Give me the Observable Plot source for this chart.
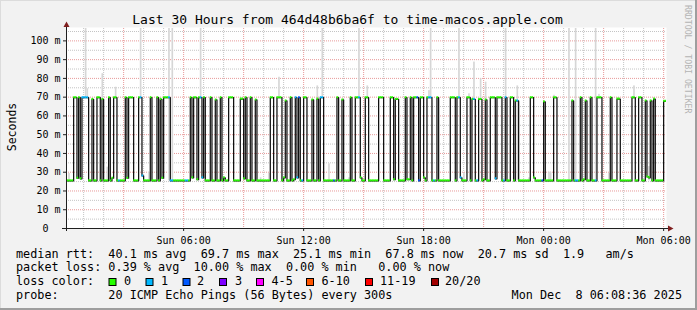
<!DOCTYPE html>
<html><head><meta charset="utf-8">
<script src="https://cdn.jsdelivr.net/npm/d3@7"></script>
<script src="https://cdn.jsdelivr.net/npm/@observablehq/plot@0.6"></script>
<style>
html,body{margin:0;padding:0;background:#f2f2f2;}
#chart{width:697px;height:310px;}
svg text{font-family:"DejaVu Sans Mono",monospace;white-space:pre;}
</style></head><body><div id="chart"></div>
<script>
// ---------- data ----------
const title = "Last 30 Hours from 464d48b6ba6f to time-macos.apple.com";
const yAxisTitle = "Seconds";
const watermark = "RRDTOOL / TOBI OETIKER";
const windowStart = "2025-12-07T00:08:36Z";
const windowEnd = "2025-12-08T06:08:36Z";
const firstSampleTime = "2025-12-07T00:10:00Z";
const stepMinutes = 5;
const sampleCount = 360;
const yMax = 106.6;                 // ms at top of canvas
const lowLevel = 25.4;              // ms, median when route is "fast"
const yTicks = [0, 10, 20, 30, 40, 50, 60, 70, 80, 90, 100];
const yMinorTicks = [5, 15, 25, 35, 45, 55, 65, 75, 85, 95, 105];
const xTickTimes = ["2025-12-07T06:00:00Z", "2025-12-07T12:00:00Z", "2025-12-07T18:00:00Z", "2025-12-08T00:00:00Z", "2025-12-08T06:00:00Z"];
const xTickLabels = ["Sun 06:00", "Sun 12:00", "Sun 18:00", "Mon 00:00", "Mon 06:00"];

// runs of samples where the median sits on the ~70 ms level [start, end)
const highRunStart = [4,7,9,15,18,21,25,28,35,37,43,50,54,56,58,74,76,79,82,86,89,92,97,104,107,110,113,122,126,131,134,137,139,142,147,150,152,162,165,170,173,179,187,194,197,203,206,208,212,216,222,230,234,240,243,247,251,254,258,263,266,269,278,286,292,303,308,311,314,318,326,330,339,343,347,350,352,358];
const highRunEnd   = [6,8,13,16,20,22,26,30,36,40,45,51,55,57,62,75,78,81,83,87,90,93,100,106,108,111,114,124,129,132,135,138,140,144,148,151,154,163,166,171,176,181,190,196,199,204,207,211,214,219,223,233,236,242,245,249,252,257,261,264,268,271,280,287,294,304,309,312,315,321,327,332,341,345,348,351,353,360];
const highRunLevel = [69.7,69.7,69.7,68.8,69.7,68.8,69.7,69.7,69.7,69.7,69.7,69.7,69.7,68.8,69.7,69.7,69.7,69.7,69.7,69.7,68.5,69.7,69.7,69.0,69.7,69.7,68.5,69.7,69.7,68.0,69.7,69.7,69.7,69.7,68.5,69.0,69.7,69.7,68.5,69.7,69.7,69.7,69.7,69.7,68.8,69.7,69.7,69.7,69.7,69.7,69.7,69.7,69.7,69.7,68.8,68.8,68.5,69.7,69.7,69.7,69.7,68.0,69.7,67.5,69.7,68.0,69.7,68.0,69.7,69.7,69.7,69.0,69.7,69.7,68.0,68.0,69.0,67.8];
// low samples a little above the usual level
const lowBumpIdx   = [6,8,27,36,45,57,75,78,81,94,106,130,136,138,176,196,204,205,214,236,250,257,280,310,348,349];
const lowBumpLevel = [26.8,26.5,26.8,26.8,28.0,26.8,27.0,26.0,27.0,27.0,26.5,27.0,26.0,27.0,27.0,26.0,26.0,26.0,27.0,27.0,26.0,26.5,27.0,26.0,27.5,27.0];
// samples with packet loss (1/20 and 2/20)
const loss1Idx = [9,10,11,12,31,44,45,61,62,63,71,72,80,81,137,138,141,152,153,175,217,218,220,235,236,244,246,257,262,263,270,305,306,317];
const loss2Idx = [139,160,210,211,285];
// smoke (ping spread) spikes
const smokeIdx = [1,11,12,21,24,29,44,49,61,63,80,116,121,127,150,153,157,169,175,180,217,218,235,238,241,244,248,251,263,270,277,289,290,292,301,305,317,319,325,340,349];
const smokeLo  = [25.4,69.7,69.7,68.8,25.4,69.7,69.7,25.4,25.4,25.4,69.7,25.4,25.4,69.7,69.0,69.7,25.4,25.4,69.7,69.7,69.7,69.7,69.7,25.4,69.7,68.8,68.8,68.5,69.7,25.4,25.4,25.4,25.4,69.7,25.4,25.4,25.4,69.7,25.4,69.7,25.4];
const smokeHi  = [29.3,110,74.5,82.5,32.7,75.3,110,30,110,110,110,27,29.3,80.6,76,110,34.5,27,110,76,73.5,110,110,29.3,71.8,88.7,79.8,78,110,76,27,30,30,71,110,110,110,71.5,29.3,76,33];

const lossColors = ["#26ff00","#00b8ff","#0059ff","#7e00ff","#ff00ff","#ff5500","#ff0000","#a10000"];
const lossLabels = ["0","1","2","3","4-5","6-10","11-19","20/20"];
const legendRtt   = "median rtt:  40.1 ms avg  69.7 ms max  25.1 ms min  67.8 ms now  20.7 ms sd  1.9   am/s";
const legendLoss  = "packet loss: 0.39 % avg  10.00 % max  0.00 % min   0.00 % now";
const legendColor = "loss color:";
const legendProbe = "probe:       20 ICMP Echo Pings (56 Bytes) every 300s";
const legendDate  = "Mon Dec  8 06:08:36 2025";

// ---------- build tables ----------
const tStart = new Date(windowStart), tEnd = new Date(windowEnd);
const t0 = new Date(firstSampleTime);
const step = stepMinutes * 60000;
const level = new Array(sampleCount).fill(lowLevel);
highRunStart.forEach((s, k) => { for (let i = s; i < highRunEnd[k]; i++) level[i] = highRunLevel[k]; });
lowBumpIdx.forEach((i, k) => { level[i] = lowBumpLevel[k]; });
const loss = new Array(sampleCount).fill(0);
loss1Idx.forEach(i => loss[i] = 1);
loss2Idx.forEach(i => loss[i] = 2);
const samples = [];
for (let i = -1; i < sampleCount; i++) {
  samples.push({t: new Date(+t0 + i * step), t2: new Date(+t0 + (i + 1) * step), v: i < 0 ? lowLevel : level[i], loss: i < 0 ? 0 : loss[i]});
}
const linePts = samples.map(d => ({t: d.t, v: d.v}));
linePts.push({t: samples[samples.length - 1].t2, v: samples[samples.length - 1].v});
const smoke = smokeIdx.map((i, k) => ({t: new Date(+t0 + i * step), t2: new Date(+t0 + (i + 1) * step), lo: smokeLo[k], hi: smokeHi[k]}));
const hours = d3.utcHour.range(tStart, tEnd);
const minorHours = hours.filter(d => d.getUTCHours() % 3 !== 0);
const majorHours = hours.filter(d => d.getUTCHours() % 3 === 0);
const xTickDates = xTickTimes.map(s => new Date(s));
const xLabelMap = new Map(xTickDates.map((d, i) => [+d, xTickLabels[i]]));
const band = yMax / 200;

const chart = Plot.plot({
  width: 697, height: 310,
  marginLeft: 66, marginRight: 31, marginTop: 28, marginBottom: 82,
  x: {type: "utc", domain: [tStart, tEnd]},
  y: {domain: [0, yMax]},
  color: {type: "identity"},
  style: {background: "#f2f2f2", fontFamily: "'DejaVu Sans Mono', monospace", fontSize: "10px", color: "#000", overflow: "visible"},
  marks: [
    Plot.frame({fill: "#ffffff", stroke: "none", insetTop: -1}),
    Plot.ruleX(minorHours, {stroke: "#c4c4c4", strokeDasharray: "1,1"}),
    Plot.ruleY(yMinorTicks, {stroke: "#c4c4c4", strokeDasharray: "1,1"}),
    Plot.ruleX(majorHours, {stroke: "#e89a9a", strokeDasharray: "1,1"}),
    Plot.ruleY(yTicks.filter(v => v > 0), {stroke: "#e89a9a", strokeDasharray: "1,1"}),
    Plot.rect(smoke, {x1: "t", x2: "t2", y1: "lo", y2: "hi", fill: "#d6d6d6", clip: true}),
    Plot.line(linePts, {x: "t", y: "v", curve: "step-after", stroke: "#111111", strokeWidth: 1.25, clip: true}),
    Plot.rect(samples, {x1: "t", x2: "t2", y1: d => d.v - band, y2: d => d.v + band, fill: d => lossColors[d.loss], clip: true}),
    Plot.ruleY([0], {stroke: "#1f1f1f", insetLeft: -4, insetRight: -3}),
    Plot.ruleX([tStart], {stroke: "#1f1f1f", insetTop: -4, insetBottom: -3}),
    Plot.axisY(yTicks, {tickFormat: d => d === 0 ? "0  " : d + " m", tickSize: 3, tickPadding: 3, label: null, stroke: "#1f1f1f"}),
    Plot.axisX(xTickDates, {tickFormat: d => xLabelMap.get(+d), tickSize: 3, tickPadding: 5, label: null, stroke: "#1f1f1f"})
  ]
});
document.getElementById("chart").appendChild(chart);

const svg = d3.select(chart);
const X = chart.scale("x"), Y = chart.scale("y");
const xr = X.apply(tEnd), xl = X.apply(tStart) + 0.5, yb = Y.apply(0) + 0.5, yt = Y.apply(yMax);
svg.append("path").attr("d", `M${xr + 2},${yb - 3}L${xr + 7.5},${yb}L${xr + 2},${yb + 3}Z`).attr("fill", "#801f1f");
svg.append("path").attr("d", `M${xl - 3},${yt - 1}L${xl},${yt - 6.5}L${xl + 3},${yt - 1}Z`).attr("fill", "#801f1f");

// 3D border
svg.append("rect").attr("x", 0).attr("y", 0).attr("width", 697).attr("height", 1).attr("fill", "#dcdcdc");
svg.append("rect").attr("x", 0).attr("y", 0).attr("width", 1).attr("height", 310).attr("fill", "#dcdcdc");
svg.append("rect").attr("x", 695).attr("y", 0).attr("width", 2).attr("height", 310).attr("fill", "#9e9e9e");
svg.append("rect").attr("x", 0).attr("y", 308).attr("width", 697).attr("height", 2).attr("fill", "#9e9e9e");

const addText = (x, y, s, size, anchor, fill, transform) => {
  const t = svg.append("text").attr("text-anchor", anchor).style("font-size", size).attr("fill", fill || "#000").text(s);
  if (transform) t.attr("transform", transform); else t.attr("x", x).attr("y", y);
  return t;
};
addText(347.5, 23.5, title, "13px", "middle");
addText(0, 0, yAxisTitle, "11.5px", "middle", "#000", "translate(15.5,127) rotate(-90)");
addText(0, 0, watermark, "8.2px", "start", "#b4b4b4", "translate(684.5,5) rotate(90)");

const legendFont = "11.8px";
[[legendRtt, 257.5], [legendLoss, 271.3], [legendColor, 285], [legendProbe, 298.7]].forEach(([s, y]) => {
  addText(16, y, s, legendFont, "start");
});
addText(682, 298.7, legendDate, legendFont, "end");
const boxX = [108.5, 145.5, 182.5, 219, 256, 306, 365, 431];
const labelX = [124, 161, 197, 235, 271.5, 321.5, 380, 445];
lossColors.forEach((c, i) => {
  svg.append("rect").attr("x", boxX[i] + 0.5).attr("y", 278.5).attr("width", 7).attr("height", 7).attr("fill", c).attr("stroke", "#000").attr("stroke-width", 1);
  addText(labelX[i], 285, lossLabels[i], legendFont, "start");
});
</script>
</body></html>
